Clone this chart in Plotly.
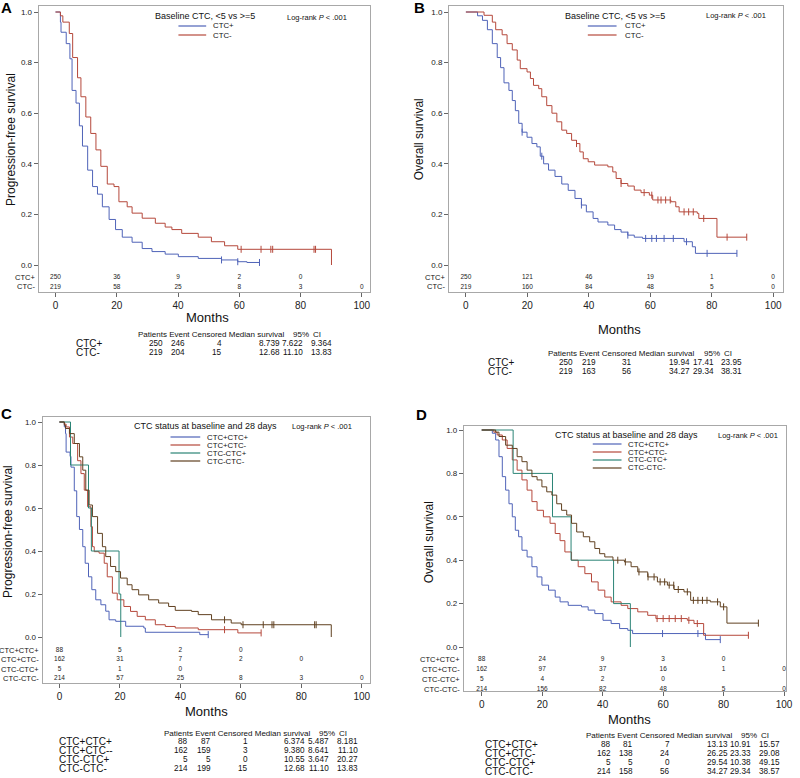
import plotly.graph_objects as go

# ---------------- DATA ----------------
MONTH_TICKS = [0, 20, 40, 60, 80, 100]
SURV_TICKS = [0, 0.2, 0.4, 0.6, 0.8, 1.0]
SURV_TICK_TEXT = ["0.0", "0.2", "0.4", "0.6", "0.8", "1.0"]

# Panel A: PFS, baseline CTC
A_pos_t = [0, 1.6, 1.8, 3.5, 4.7, 5.4, 6.7, 7.8, 8.8, 10.5, 12.1, 13.7, 15.3, 17.5, 19.6, 21.8, 25.0, 28.3, 31.5, 35.8, 40.1, 46.6, 54.2, 59.5, 62.5, 66.6]
A_pos_s = [1, 0.96, 0.92, 0.875, 0.815, 0.69, 0.64, 0.55, 0.47, 0.375, 0.31, 0.28, 0.23, 0.18, 0.14, 0.11, 0.09, 0.065, 0.053, 0.043, 0.033, 0.026, 0.02, 0.013, 0.01, 0.01]
A_pos_cens = [54.2, 59.5, 66.6]
A_neg_t = [0, 1.6, 2.4, 4.5, 5.6, 7.2, 8.3, 9.9, 11.5, 13.2, 14.8, 16.9, 19.1, 20.7, 23.4, 25.0, 28.3, 32.6, 35.8, 38.0, 41.2, 46.6, 50.9, 55.2, 59.5, 90.1]
A_neg_s = [1, 0.985, 0.96, 0.915, 0.82, 0.74, 0.665, 0.585, 0.52, 0.455, 0.39, 0.32, 0.31, 0.25, 0.23, 0.205, 0.185, 0.165, 0.15, 0.14, 0.125, 0.11, 0.092, 0.076, 0.062, 0.0]
A_neg_cens = [60.6, 67.1, 70.3, 70.9, 84.4, 84.9]

# Panel B: OS, baseline CTC
B_pos_t = [0, 3.8, 5.4, 7.0, 8.6, 10.2, 11.3, 12.4, 14.0, 15.1, 16.1, 17.2, 18.3, 19.9, 21.5, 23.1, 24.2, 25.3, 26.9, 29.0, 31.2, 33.3, 35.5, 37.6, 39.2, 41.4, 43.0, 46.2, 48.4, 50.5, 52.7, 54.8, 57.5, 71.0, 73.7, 74.7, 88.2]
B_pos_s = [1, 0.985, 0.967, 0.93, 0.875, 0.82, 0.78, 0.72, 0.69, 0.65, 0.61, 0.56, 0.525, 0.505, 0.48, 0.467, 0.43, 0.40, 0.375, 0.35, 0.32, 0.295, 0.263, 0.237, 0.21, 0.184, 0.17, 0.158, 0.14, 0.13, 0.118, 0.11, 0.105, 0.092, 0.072, 0.046, 0.046]
B_pos_cens = [18.3, 24.7, 37.6, 52.7, 58.5, 60.5, 62.0, 64.5, 67.5, 71.8, 78.5, 88.2]
B_neg_t = [0, 5.9, 8.6, 9.7, 11.8, 13.4, 15.1, 16.7, 17.7, 19.9, 21.0, 22.0, 23.7, 24.7, 26.3, 28.0, 29.6, 31.2, 32.8, 34.4, 36.0, 37.1, 38.2, 39.8, 41.9, 46.2, 47.8, 48.9, 50.5, 52.7, 54.8, 57.0, 59.7, 60.8, 66.7, 68.3, 69.4, 75.3, 75.8, 81.7, 91.4]
B_neg_s = [1, 0.987, 0.96, 0.93, 0.91, 0.875, 0.85, 0.81, 0.776, 0.763, 0.737, 0.71, 0.697, 0.665, 0.63, 0.60, 0.566, 0.533, 0.52, 0.493, 0.48, 0.447, 0.42, 0.408, 0.395, 0.388, 0.368, 0.342, 0.322, 0.312, 0.296, 0.286, 0.276, 0.257, 0.25, 0.23, 0.21, 0.204, 0.184, 0.11, 0.11]
B_neg_cens = [36.0, 50.5, 58.0, 60.5, 62.5, 63.5, 65.0, 66.5, 71.0, 72.5, 74.0, 77.4, 85.0, 91.4]

# Panel C: PFS, CTC status at baseline and 28 days
C_pp_t = [0, 1.6, 2.0, 2.2, 3.5, 3.8, 4.9, 5.7, 6.6, 7.7, 8.5, 9.6, 10.7, 12.0, 13.7, 15.3, 16.4, 18.6, 21.9, 27.9, 28.4, 46.4, 49.2]
C_pp_s = [1, 0.977, 0.946, 0.86, 0.84, 0.79, 0.68, 0.56, 0.50, 0.42, 0.343, 0.28, 0.22, 0.173, 0.15, 0.12, 0.08, 0.073, 0.05, 0.042, 0.022, 0.011, 0.011]
C_pp_cens = [49.2]
C_pm_t = [0, 1.6, 2.2, 3.3, 4.4, 6.0, 7.1, 8.2, 9.3, 10.4, 10.9, 11.5, 13.1, 14.8, 15.8, 17.5, 19.1, 21.3, 23.5, 25.7, 28.4, 31.7, 35.0, 38.3, 45.9, 59.0, 66.7]
C_pm_s = [1, 0.99, 0.977, 0.93, 0.90, 0.82, 0.76, 0.683, 0.606, 0.513, 0.42, 0.397, 0.39, 0.343, 0.28, 0.204, 0.173, 0.142, 0.119, 0.096, 0.08, 0.057, 0.049, 0.042, 0.034, 0.019, 0.019]
C_pm_cens = [54.6, 66.7]
C_mp_t = [0, 3.65, 9.6, 10.55, 19.7, 20.27]
C_mp_s = [1, 0.8, 0.6, 0.4, 0.2, 0.0]
C_mp_cens = []
C_mm_t = [0, 1.6, 2.0, 3.3, 4.9, 6.6, 7.7, 8.7, 9.8, 10.9, 12.6, 14.2, 15.3, 16.9, 18.6, 20.2, 22.4, 24.0, 26.2, 29.5, 32.8, 36.1, 38.3, 43.7, 45.9, 50.3, 56.8, 60.1, 89.9]
C_mm_s = [1, 0.985, 0.97, 0.946, 0.9, 0.838, 0.776, 0.683, 0.614, 0.56, 0.482, 0.42, 0.374, 0.328, 0.304, 0.274, 0.243, 0.22, 0.196, 0.173, 0.158, 0.142, 0.124, 0.119, 0.104, 0.08, 0.065, 0.057, 0.0]
C_mm_cens = [54.6, 60.7, 67.4, 70.3, 70.9, 84.4, 84.9]

# Panel D: OS, CTC status at baseline and 28 days
D_pp_t = [0, 3.5, 4.6, 5.7, 6.8, 7.9, 9.0, 10.1, 11.1, 12.2, 13.3, 15.0, 16.6, 18.3, 19.9, 22.1, 24.3, 25.9, 28.6, 33.0, 35.2, 37.4, 40.1, 42.8, 45.6, 48.3, 49.9, 74.0, 78.9]
D_pp_s = [1, 0.985, 0.954, 0.877, 0.785, 0.723, 0.66, 0.6, 0.538, 0.508, 0.446, 0.415, 0.37, 0.323, 0.285, 0.262, 0.23, 0.208, 0.192, 0.185, 0.17, 0.154, 0.123, 0.108, 0.085, 0.077, 0.062, 0.034, 0.034]
D_pp_cens = [59.8, 71.5, 78.9]
D_pm_t = [0, 4.0, 5.1, 6.8, 8.4, 10.1, 11.7, 13.3, 15.0, 16.6, 18.3, 20.4, 22.6, 24.3, 25.9, 27.5, 29.7, 31.9, 34.1, 36.3, 38.5, 40.7, 42.8, 46.1, 48.3, 51.6, 54.9, 57.6, 68.0, 70.2, 73.4, 88.2]
D_pm_s = [1, 0.99, 0.977, 0.954, 0.915, 0.862, 0.815, 0.77, 0.723, 0.67, 0.63, 0.6, 0.57, 0.523, 0.49, 0.438, 0.4, 0.37, 0.338, 0.3, 0.262, 0.23, 0.208, 0.192, 0.177, 0.162, 0.146, 0.131, 0.123, 0.108, 0.054, 0.054]
D_pm_cens = [58.0, 60.0, 62.0, 64.0, 66.0, 68.5, 71.3, 88.2]
D_mp_t = [0, 10.38, 23.4, 29.54, 43.6, 49.15]
D_mp_s = [1, 0.8, 0.6, 0.4, 0.2, 0.0]
D_mp_cens = []
D_mm_t = [0, 4.6, 5.7, 7.9, 10.1, 11.7, 13.3, 15.0, 16.6, 18.3, 19.9, 21.5, 23.2, 24.8, 26.4, 28.1, 29.7, 31.4, 33.6, 35.7, 37.4, 39.0, 40.7, 43.4, 47.2, 49.4, 51.6, 54.9, 58.1, 61.4, 63.6, 66.9, 69.1, 75.6, 78.9, 81.1, 91.5]
D_mm_s = [1, 0.99, 0.97, 0.93, 0.915, 0.877, 0.854, 0.815, 0.785, 0.77, 0.738, 0.715, 0.7, 0.66, 0.63, 0.608, 0.57, 0.53, 0.508, 0.485, 0.454, 0.43, 0.415, 0.4, 0.392, 0.37, 0.346, 0.323, 0.3, 0.285, 0.265, 0.254, 0.215, 0.208, 0.185, 0.11, 0.11]
D_mm_cens = [45.0, 47.5, 52.0, 55.0, 57.0, 59.0, 60.5, 62.0, 63.5, 65.0, 68.0, 70.0, 71.5, 73.0, 74.5, 78.0, 80.0, 91.5]

# Numbers at risk
A_risk_labels = ["CTC+", "CTC-"]
A_risk = [[250, 36, 9, 2, 0], [219, 58, 25, 8, 3, 0]]
B_risk_labels = ["CTC+", "CTC-"]
B_risk = [[250, 121, 46, 19, 1, 0], [219, 160, 84, 48, 5, 0]]
C_risk_labels = ["CTC+CTC+", "CTC+CTC-", "CTC-CTC+", "CTC-CTC-"]
C_risk = [[88, 5, 2, 0], [162, 31, 7, 2, 0], [5, 1, 0], [214, 57, 25, 8, 3, 0]]
D_risk_labels = ["CTC+CTC+", "CTC+CTC-", "CTC-CTC+", "CTC-CTC-"]
D_risk = [[88, 24, 9, 3, 0], [162, 97, 37, 16, 1, 0], [5, 4, 2, 0], [214, 156, 82, 48, 5, 0]]

# Summary tables
TABLE_HEADER = "Patients Event Censored Median survival"
A_tab_labels = ["CTC+", "CTC-"]
A_tab = [["250", "246", "4", "8.739", "7.622", "9.364"], ["219", "204", "15", "12.68", "11.10", "13.83"]]
B_tab_labels = ["CTC+", "CTC-"]
B_tab = [["250", "219", "31", "19.94", "17.41", "23.95"], ["219", "163", "56", "34.27", "29.34", "38.31"]]
C_tab_labels = ["CTC+CTC+", "CTC+CTC--", "CTC-CTC+", "CTC-CTC-"]
C_tab = [["88", "87", "1", "6.374", "5.487", "8.181"], ["162", "159", "3", "9.380", "8.641", "11.10"],
         ["5", "5", "0", "10.55", "3.647", "20.27"], ["214", "199", "15", "12.68", "11.10", "13.83"]]
D_tab_labels = ["CTC+CTC+", "CTC+CTC-", "CTC-CTC+", "CTC-CTC-"]
D_tab = [["88", "81", "7", "13.13", "10.91", "15.57"], ["162", "138", "24", "26.25", "23.33", "29.08"],
         ["5", "5", "0", "29.54", "10.38", "49.15"], ["214", "158", "56", "34.27", "29.34", "38.57"]]

# ---------------- STYLE / LAYOUT ----------------
W, H = 800, 778
FONT = "Arial, Liberation Sans, sans-serif"
BLUE, RED, TEAL, BROWN = "#4f63b8", "#b5483b", "#2b8476", "#604020"
FRAME = "#a8a8a8"


def px(x):
    return x / W


def py(y):
    return 1 - y / H


panels = [
    dict(key="A", L=39, R=373, T=6, B=292, x0=56, x100=365, y1=12, y0=265,
         ytitle="Progression-free survival", ytx=11, yty=139, mx=209, my=318,
         letter=(7, 8),
         series=[("CTC+", A_pos_t, A_pos_s, A_pos_cens, BLUE), ("CTC-", A_neg_t, A_neg_s, A_neg_cens, RED)],
         risk_labels=A_risk_labels, risk=A_risk, risk_rows=[277, 287], risk_lab_x=37,
         leg_title="Baseline CTC, <5 vs >=5", leg_tc=(207, 16), leg_x=(180, 208), leg_lx=213, leg_rows=[26, 35],
         lr=(288, 17),
         tab_labels=A_tab_labels, tab=A_tab, tab_x0=137, tab_hy=334, tab_rows=[343, 352], tab_lx=75),
    dict(key="B", L=453, R=790, T=6, B=292, x0=470, x100=780, y1=12, y0=265,
         ytitle="Overall survival", ytx=423, yty=139, mx=625, my=329,
         letter=(423, 8),
         series=[("CTC+", B_pos_t, B_pos_s, B_pos_cens, BLUE), ("CTC-", B_neg_t, B_neg_s, B_neg_cens, RED)],
         risk_labels=B_risk_labels, risk=B_risk, risk_rows=[277, 287], risk_lab_x=451,
         leg_title="Baseline CTC, <5 vs >=5", leg_tc=(620, 16), leg_x=(593, 622), leg_lx=628, leg_rows=[26, 35],
         lr=(710, 16),
         tab_labels=B_tab_labels, tab=B_tab, tab_x0=551, tab_hy=353, tab_rows=[362, 371], tab_lx=490),
    dict(key="C", L=43, R=373, T=417, B=683, x0=60, x100=365, y1=422, y0=637,
         ytitle="Progression-free survival", ytx=8, yty=531, mx=208, my=711,
         letter=(7, 413),
         series=[("CTC+CTC+", C_pp_t, C_pp_s, C_pp_cens, BLUE), ("CTC+CTC-", C_pm_t, C_pm_s, C_pm_cens, RED),
                 ("CTC-CTC+", C_mp_t, C_mp_s, C_mp_cens, TEAL), ("CTC-CTC-", C_mm_t, C_mm_s, C_mm_cens, BROWN)],
         risk_labels=C_risk_labels, risk=C_risk, risk_rows=[650, 659, 669, 678], risk_lab_x=41,
         leg_title="CTC status at baseline and 28 days", leg_tc=(207, 426), leg_x=(172, 202), leg_lx=207,
         leg_rows=[437, 445, 453, 461], lr=(293, 426),
         tab_labels=C_tab_labels, tab=C_tab, tab_x0=163, tab_hy=733, tab_rows=[741, 750, 759, 768], tab_lx=57),
    dict(key="D", L=468, R=793, T=426, B=691, x0=486, x100=791, y1=430, y0=647,
         ytitle="Overall survival", ytx=433, yty=542, mx=635, my=719,
         letter=(425, 414),
         series=[("CTC+CTC+", D_pp_t, D_pp_s, D_pp_cens, BLUE), ("CTC+CTC-", D_pm_t, D_pm_s, D_pm_cens, RED),
                 ("CTC-CTC+", D_mp_t, D_mp_s, D_mp_cens, TEAL), ("CTC-CTC-", D_mm_t, D_mm_s, D_mm_cens, BROWN)],
         risk_labels=D_risk_labels, risk=D_risk, risk_rows=[659, 669, 679, 689], risk_lab_x=466,
         leg_title="CTC status at baseline and 28 days", leg_tc=(632, 435), leg_x=(598, 627), leg_lx=632,
         leg_rows=[444, 452, 460, 468], lr=(722, 435),
         tab_labels=D_tab_labels, tab=D_tab, tab_x0=589, tab_hy=735, tab_rows=[744, 753, 762, 771], tab_lx=487),
]

TAB_COL_OFFSETS = [29, 52, 89, 147, 171, 200]


def surv_at(t, ts, ss):
    v = ss[0]
    for ti, si in zip(ts, ss):
        if ti <= t:
            v = si
    return v


fig = go.Figure()
annotations = []
shapes = []
layout = {}


def ann(text, x, y, size, xanchor="center", yanchor="middle", angle=0, color="#111"):
    annotations.append(dict(text=text, x=px(x), y=py(y), xref="paper", yref="paper", showarrow=False,
                            xanchor=xanchor, yanchor=yanchor, textangle=angle,
                            font=dict(family=FONT, size=size, color=color)))


for i, p in enumerate(panels):
    n = i + 1
    xa = "x" if n == 1 else f"x{n}"
    ya = "y" if n == 1 else f"y{n}"
    xspan = p["x100"] - p["x0"]
    yspan = p["y0"] - p["y1"]
    xr = [(p["L"] - p["x0"]) / xspan * 100, (p["R"] - p["x0"]) / xspan * 100]
    yr = [(p["y0"] - p["B"]) / yspan, (p["y0"] - p["T"]) / yspan]

    layout["xaxis" if n == 1 else f"xaxis{n}"] = dict(
        domain=[px(p["L"]), px(p["R"])], range=xr, anchor=ya, tickvals=MONTH_TICKS,
        ticks="outside", ticklen=4, tickcolor="#666", showline=True, linecolor=FRAME, linewidth=1,
        mirror=True, showgrid=False, zeroline=False, tickfont=dict(family=FONT, size=10, color="#222"))
    layout["yaxis" if n == 1 else f"yaxis{n}"] = dict(
        domain=[py(p["B"]), py(p["T"])], range=yr, anchor=xa, tickvals=SURV_TICKS, ticktext=SURV_TICK_TEXT,
        ticks="outside", ticklen=4, tickcolor="#666", showline=True, linecolor=FRAME, linewidth=1,
        mirror=True, showgrid=False, zeroline=False, tickfont=dict(family=FONT, size=8, color="#222"))

    # curves
    for name, ts, ss, cens, col in p["series"]:
        assert len(ts) == len(ss)
        fig.add_trace(go.Scatter(x=ts, y=ss, mode="lines", line=dict(color=col, width=1, shape="hv"),
                                 xaxis=xa, yaxis=ya, showlegend=False, hoverinfo="skip"))
        if cens:
            fig.add_trace(go.Scatter(x=cens, y=[surv_at(c, ts, ss) for c in cens], mode="markers",
                                     marker=dict(symbol="line-ns", size=5, line=dict(color=col, width=1)),
                                     xaxis=xa, yaxis=ya, showlegend=False, hoverinfo="skip"))

    # risk table
    for lab, counts, rowpx in zip(p["risk_labels"], p["risk"], p["risk_rows"]):
        yv = (p["y0"] - rowpx) / yspan
        fig.add_trace(go.Scatter(x=MONTH_TICKS[:len(counts)], y=[yv] * len(counts), mode="text",
                                 text=[str(c) for c in counts], textposition="middle center",
                                 textfont=dict(family=FONT, size=6.5, color="#222"), cliponaxis=False,
                                 xaxis=xa, yaxis=ya, showlegend=False, hoverinfo="skip"))
        ann(lab, p["risk_lab_x"], rowpx, 7.5, xanchor="right")

    # titles
    ann(p["ytitle"], p["ytx"], p["yty"], 12, angle=-90)
    ann("Months", p["mx"], p["my"], 13)
    ann("<b>" + p["key"] + "</b>", p["letter"][0], p["letter"][1], 15, color="#000")

    # legend
    ann(p["leg_title"], p["leg_tc"][0], p["leg_tc"][1], 9)
    for (name, ts, ss, cens, col), ry in zip(p["series"], p["leg_rows"]):
        shapes.append(dict(type="line", xref="paper", yref="paper", x0=px(p["leg_x"][0]), x1=px(p["leg_x"][1]),
                           y0=py(ry), y1=py(ry), line=dict(color=col, width=1.2)))
        ann(name, p["leg_lx"], ry, 7.8, xanchor="left")
    ann("Log-rank <i>P</i> < .001", p["lr"][0], p["lr"][1], 7.5, xanchor="left")

    # summary table
    x0 = p["tab_x0"]
    ann(TABLE_HEADER, x0, p["tab_hy"], 8, xanchor="left")
    ann("95%", x0 + 157, p["tab_hy"], 8, xanchor="left")
    ann("CI", x0 + 177, p["tab_hy"], 8, xanchor="left")
    for lab, row, ry in zip(p["tab_labels"], p["tab"], p["tab_rows"]):
        ann(lab, p["tab_lx"], ry, 10, xanchor="left")
        for val, off in zip(row, TAB_COL_OFFSETS):
            ann(val, x0 + off, ry, 8.2, xanchor="right")

fig.update_layout(width=W, height=H, autosize=False, margin=dict(l=0, r=0, t=0, b=0),
                  paper_bgcolor="white", plot_bgcolor="white", showlegend=False,
                  annotations=annotations, shapes=shapes, **layout)
fig.write_html("out.html", config={"displayModeBar": False},
               post_script="document.body.style.margin='0';document.body.style.overflow='hidden';")
